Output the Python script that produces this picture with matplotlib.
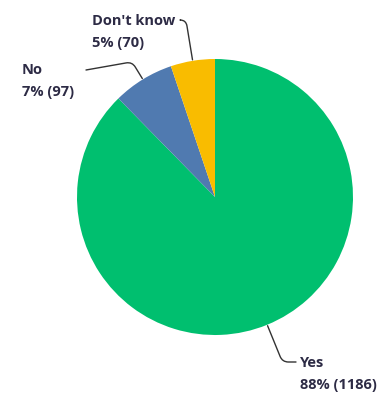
import matplotlib.pyplot as plt
import numpy as np

plt.rcParams["font.family"] = ["Open Sans", "DejaVu Sans"]

categories = ["Yes", "No", "Don't know"]
counts = [1186, 97, 70]
colors = ["#00BF6F", "#507AB0", "#F9BC00"]

W, H = 389, 394
text_color = "#2d2b45"

# label layout in pixel coords (top-left of text block, leader start, angleA)
layout = {
    "Yes": dict(text=(300, 356), lead=(296, 362), angleA=0),
    "No": dict(text=(22, 63), lead=(86, 70), angleA=10),
    "Don't know": dict(text=(92, 14), lead=(180, 20), angleA=0),
}

fig = plt.figure(figsize=(W / 100, H / 100), dpi=100)
ax = fig.add_axes([0, 0, 1, 1])

cx, cy, r = 215, H - 197, 138
wedges, _ = ax.pie(counts, colors=colors, startangle=90, counterclock=False,
                   center=(cx, cy), radius=r, frame=True,
                   wedgeprops=dict(linewidth=0))
ax.set_xlim(0, W)
ax.set_ylim(0, H)
ax.axis("off")

total = sum(counts)
for w, cat, n in zip(wedges, categories, counts):
    pct = round(100 * n / total)
    lay = layout[cat]
    tx, ty = lay["text"]
    ax.text(tx, H - ty, f"{cat}\n{pct}% ({n})", ha="left", va="top",
            fontsize=10.5, fontweight="bold", color=text_color,
            linespacing=1.75)
    mid = np.deg2rad((w.theta1 + w.theta2) / 2)
    ex, ey = cx + (r + 1) * np.cos(mid), cy + (r + 1) * np.sin(mid)
    lx, ly = lay["lead"]
    ax.annotate("", xy=(ex, ey), xytext=(lx, H - ly),
                arrowprops=dict(arrowstyle="-", color="#333333", lw=1,
                                shrinkA=0, shrinkB=0,
                                connectionstyle=f"angle,angleA={lay['angleA']},"
                                f"angleB={np.rad2deg(mid):.1f},rad=6"))

fig.savefig("out.png", dpi=100, facecolor="white")
